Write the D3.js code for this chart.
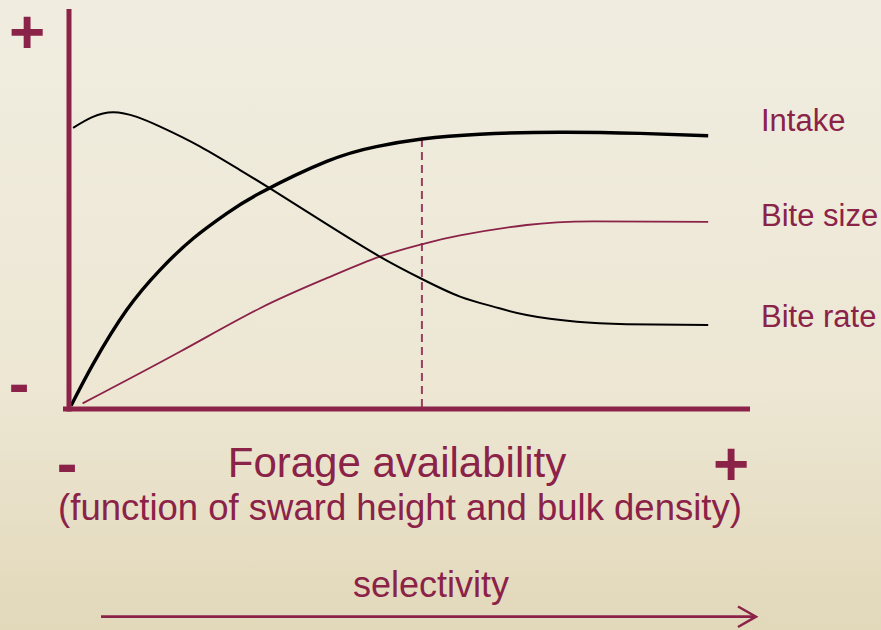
<!DOCTYPE html>
<html>
<head>
<meta charset="utf-8">
<script src="https://cdn.jsdelivr.net/npm/d3@7"></script>
<style>
  html, body { margin: 0; padding: 0; }
  body { width: 881px; height: 630px; overflow: hidden; }
  text { font-family: "Liberation Sans", Arial, sans-serif; }
</style>
</head>
<body>
<svg id="chart" width="881" height="630"></svg>
<script>
// curves, x and y in 0..100 units of the plot area
const intake = [
    [0.3, 0.8], [3.6, 11.4], [8.5, 24.8], [13.4, 34.8], [18.3, 42.7], [23.2, 48.9],
    [28.1, 54.0], [37.9, 61.9], [45.2, 65.6], [51.9, 67.5], [60.4, 68.7], [72.2, 69.2],
    [84, 68.9], [94.0, 68.3]
];
const biteSize = [
    [2.0, 1.4], [16.3, 14.3], [28.1, 25.2], [37.9, 32.7], [45.7, 38.1], [51.9, 41.2],
    [57.5, 43.4], [67.3, 46.0], [77.1, 46.9], [94.0, 46.8]
];
const biteRate = [
    [0.6, 70.3], [6.5, 74.2], [13.4, 70.6], [19.3, 65.6], [25.1, 59.8], [29.8, 54.9],
    [37.9, 46.2], [45.7, 38.1], [51.9, 32.5], [57.5, 28.1], [62.4, 25.6], [67.3, 23.5],
    [74.7, 21.8], [82.0, 21.2], [94.0, 21.0]
];
const seriesNames = ['Intake', 'Bite size', 'Bite rate'];
const optimumX = 51.9;

const maroon = '#8b2248';
const svg = d3.select('#chart');

// background gradient
const defs = svg.append('defs');
const grad = defs.append('linearGradient')
    .attr('id', 'bg').attr('x1', 0).attr('y1', 0).attr('x2', 0).attr('y2', 1);
grad.append('stop').attr('offset', '0%').attr('stop-color', '#f0ede0');
grad.append('stop').attr('offset', '60%').attr('stop-color', '#ede7d4');
grad.append('stop').attr('offset', '100%').attr('stop-color', '#e2d8ba');
svg.append('rect').attr('width', 881).attr('height', 630).attr('fill', 'url(#bg)');

const x = d3.scaleLinear().domain([0, 100]).range([69, 749]);
const y = d3.scaleLinear().domain([0, 100]).range([409, 9]);

const line = d3.line()
    .x(d => x(d[0]))
    .y(d => y(d[1]))
    .curve(d3.curveNatural);

// dashed marker
svg.append('line')
    .attr('x1', x(optimumX)).attr('x2', x(optimumX))
    .attr('y1', y(67.5)).attr('y2', y(0))
    .attr('stroke', maroon).attr('stroke-opacity', 0.85)
    .attr('stroke-width', 2).attr('stroke-dasharray', '8,5');

// curves
svg.append('path').datum(biteSize).attr('d', line)
    .attr('fill', 'none').attr('stroke', maroon).attr('stroke-width', 1.8);
svg.append('path').datum(biteRate).attr('d', line)
    .attr('fill', 'none').attr('stroke', '#000').attr('stroke-width', 2);
svg.append('path').datum(intake).attr('d', line)
    .attr('fill', 'none').attr('stroke', '#000').attr('stroke-width', 3.4);

// axes
svg.append('line')
    .attr('x1', x(0)).attr('x2', x(0)).attr('y1', y(100)).attr('y2', y(0) + 2.5)
    .attr('stroke', maroon).attr('stroke-width', 5);
svg.append('line')
    .attr('x1', x(0) - 6).attr('x2', 750).attr('y1', y(0)).attr('y2', y(0))
    .attr('stroke', maroon).attr('stroke-width', 5);

// series labels at the right end
const ends = [intake, biteSize, biteRate].map(s => s[s.length - 1][1]);
const labelShift = [-5, 4, 2];
svg.selectAll('text.lab')
    .data(seriesNames)
    .join('text')
    .attr('class', 'lab')
    .attr('x', 761)
    .attr('y', (d, i) => y(ends[i]) + labelShift[i])
    .attr('fill', maroon)
    .attr('font-size', 31)
    .text(d => d);

// plus / minus signs
function sign(s, cx, base) {
    svg.append('text')
        .attr('x', cx).attr('y', base)
        .attr('text-anchor', 'middle')
        .attr('font-size', 62).attr('font-weight', 'bold')
        .attr('fill', maroon)
        .text(s);
}
sign('+', 27, 53);
sign('-', 19, 404);
sign('-', 67, 484);
sign('+', 731, 485);

// axis titles
svg.append('text')
    .attr('x', 397).attr('y', 477)
    .attr('text-anchor', 'middle')
    .attr('font-size', 42).attr('fill', maroon)
    .text('Forage availability');
svg.append('text')
    .attr('x', 400).attr('y', 520)
    .attr('text-anchor', 'middle')
    .attr('font-size', 36.5).attr('fill', maroon)
    .text('(function of sward height and bulk density)');
svg.append('text')
    .attr('x', 431).attr('y', 597)
    .attr('text-anchor', 'middle')
    .attr('font-size', 36).attr('fill', maroon)
    .text('selectivity');

// selectivity arrow
svg.append('line')
    .attr('x1', 101).attr('x2', 755).attr('y1', 616.7).attr('y2', 616.7)
    .attr('stroke', maroon).attr('stroke-width', 2.7);
svg.append('path')
    .attr('d', 'M738,606.5 L756,616.7 L738,627')
    .attr('fill', 'none').attr('stroke', maroon).attr('stroke-width', 2.5);
</script>
</body>
</html>
